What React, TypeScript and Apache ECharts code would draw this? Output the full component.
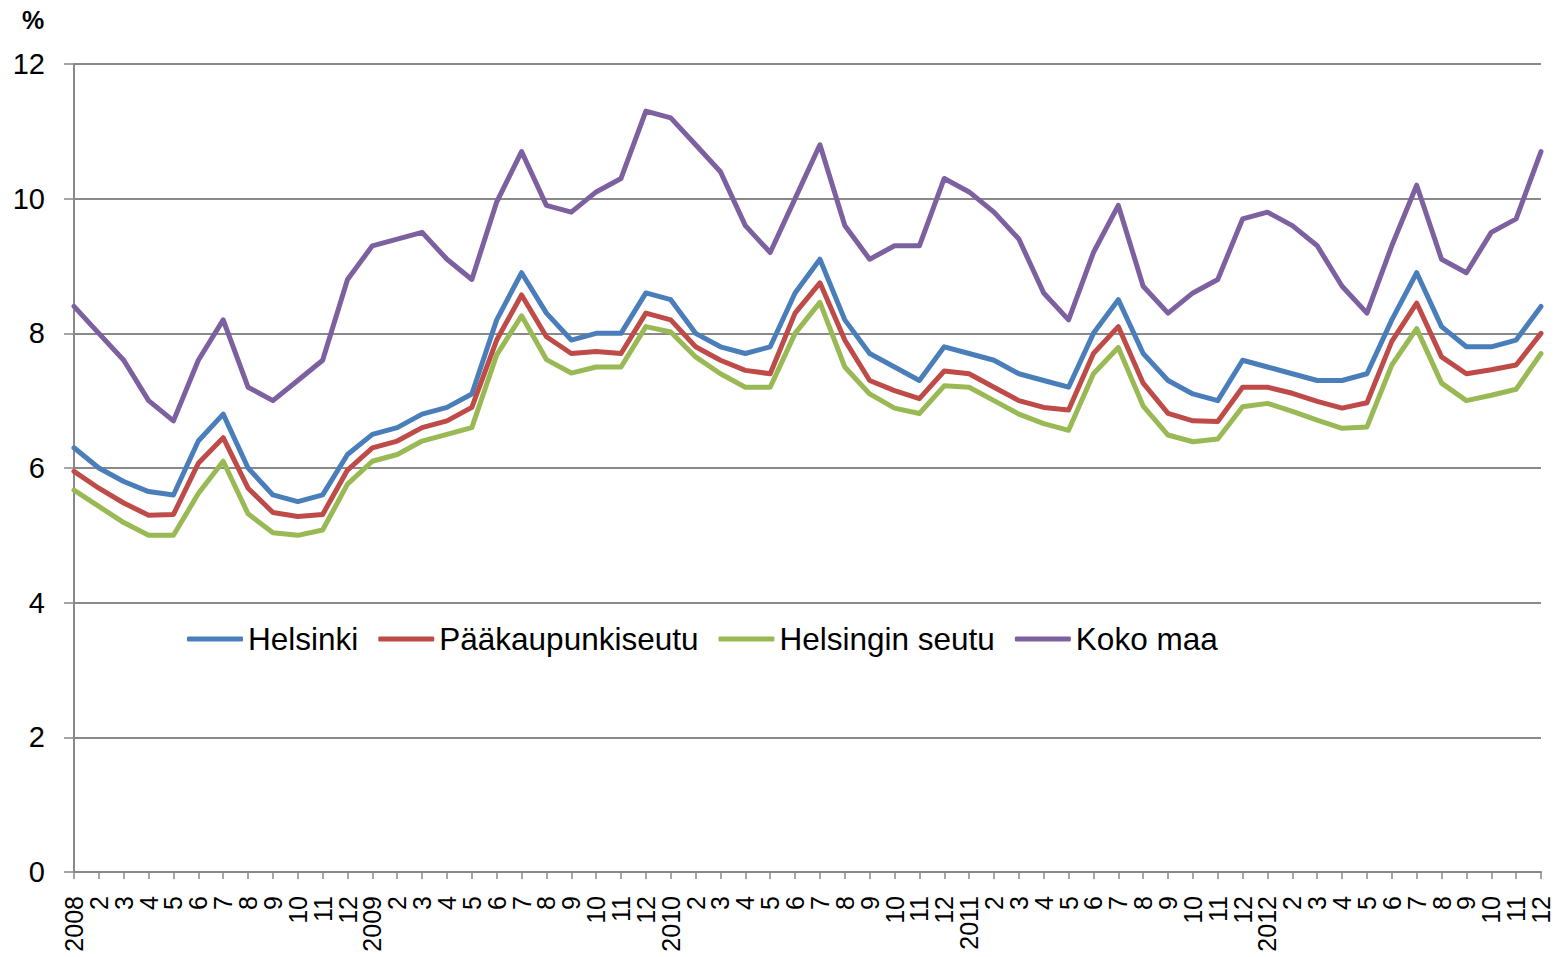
import React, { useEffect, useRef } from "react";
import * as echarts from "echarts";

const years = ["2008", "2009", "2010", "2011", "2012"];
const months = ["1", "2", "3", "4", "5", "6", "7", "8", "9", "10", "11", "12"];
const categories: string[] = [];
const tickLabels: string[] = [];
years.forEach((y) =>
  months.forEach((m) => {
    categories.push(y + "-" + m);
    tickLabels.push(m === "1" ? y : m);
  })
);

const helsinki = [
  6.3, 6.0, 5.8, 5.65, 5.6, 6.4, 6.8, 6.0, 5.6, 5.5, 5.6, 6.2,
  6.5, 6.6, 6.8, 6.9, 7.1, 8.2, 8.9, 8.3, 7.9, 8.0, 8.0, 8.6,
  8.5, 8.0, 7.8, 7.7, 7.8, 8.6, 9.1, 8.2, 7.7, 7.5, 7.3, 7.8,
  7.7, 7.6, 7.4, 7.3, 7.2, 8.0, 8.5, 7.7, 7.3, 7.1, 7.0, 7.6,
  7.5, 7.4, 7.3, 7.3, 7.4, 8.2, 8.9, 8.1, 7.8, 7.8, 7.9, 8.4,
];
const paakaupunkiseutu = [
  5.95, 5.7, 5.48, 5.3, 5.31, 6.07, 6.45, 5.7, 5.34, 5.28, 5.31, 5.97,
  6.3, 6.4, 6.6, 6.7, 6.9, 7.9, 8.57, 7.95, 7.7, 7.73, 7.7, 8.3,
  8.2, 7.8, 7.6, 7.45, 7.4, 8.3, 8.75, 7.9, 7.3, 7.15, 7.03, 7.44,
  7.4, 7.2, 7.0, 6.9, 6.86, 7.7, 8.1, 7.26, 6.81, 6.7, 6.69, 7.2,
  7.2, 7.11, 6.99, 6.89, 6.97, 7.88, 8.45, 7.65, 7.4, 7.46, 7.53, 8.0,
];
const helsinginSeutu = [
  5.67, 5.43, 5.19, 5.0, 5.0, 5.62, 6.1, 5.32, 5.04, 5.0, 5.08, 5.76,
  6.1, 6.2, 6.4, 6.5, 6.6, 7.68, 8.26, 7.61, 7.41, 7.5, 7.5, 8.1,
  8.02, 7.65, 7.4, 7.2, 7.2, 8.0, 8.46, 7.5, 7.1, 6.89, 6.81, 7.22,
  7.2, 7.0, 6.8, 6.66, 6.56, 7.4, 7.79, 6.92, 6.49, 6.39, 6.43, 6.91,
  6.96, 6.84, 6.71, 6.59, 6.61, 7.53, 8.07, 7.26, 7.0, 7.08, 7.17, 7.7,
];
const kokoMaa = [
  8.4, 8.0, 7.6, 7.0, 6.7, 7.6, 8.2, 7.2, 7.0, 7.3, 7.6, 8.8,
  9.3, 9.4, 9.5, 9.1, 8.8, 9.95, 10.7, 9.9, 9.8, 10.1, 10.3, 11.3,
  11.2, 10.8, 10.4, 9.6, 9.2, 10.0, 10.8, 9.6, 9.1, 9.3, 9.3, 10.3,
  10.1, 9.8, 9.4, 8.6, 8.2, 9.2, 9.9, 8.7, 8.3, 8.6, 8.8, 9.7,
  9.8, 9.6, 9.3, 8.7, 8.3, 9.3, 10.2, 9.1, 8.9, 9.5, 9.7, 10.7,
];

const seriesNames = ["Helsinki", "Pääkaupunkiseutu", "Helsingin seutu", "Koko maa"];
const seriesColors = ["#4A7EBB", "#BE4B48", "#98B954", "#7D60A0"];
const seriesData = [helsinki, paakaupunkiseutu, helsinginSeutu, kokoMaa];

const FONT = "Arial, 'Liberation Sans', sans-serif";
const GRID_COLOR = "#898989";

export default function App() {
  const ref = useRef<HTMLDivElement>(null);
  useEffect(() => {
    if (!ref.current) return;
    const chart = echarts.init(ref.current, undefined, { renderer: "svg" });
    chart.setOption({
      animation: false,
      backgroundColor: "#ffffff",
      textStyle: { fontFamily: FONT },
      grid: {
        left: 74,
        right: 22,
        top: 64,
        bottom: 85,
        containLabel: false,
        outerBoundsMode: "none",
      },
      graphic: [
        {
          type: "text",
          left: 22,
          top: 7,
          style: {
            text: "%",
            fontFamily: FONT,
            fontSize: 25,
            fontWeight: "bold",
            fill: "#000",
          },
        },
      ],
      legend: {
        left: 187,
        top: 623,
        padding: 0,
        itemWidth: 56,
        itemHeight: 5,
        itemGap: 20,
        icon: "roundRect",
        textStyle: { fontFamily: FONT, fontSize: 31.5, color: "#000" },
        data: seriesNames,
      },
      xAxis: {
        type: "category",
        data: categories,
        boundaryGap: false,
        axisLine: { lineStyle: { color: GRID_COLOR, width: 2 } },
        axisTick: {
          show: true,
          length: 7,
          interval: 0,
          lineStyle: { color: GRID_COLOR, width: 1.5 },
        },
        axisLabel: {
          interval: 0,
          rotate: 90,
          margin: 24,
          fontFamily: FONT,
          fontSize: 25,
          color: "#000",
          formatter: (_v: string, idx: number) => tickLabels[idx],
        },
        splitLine: { show: false },
      },
      yAxis: {
        type: "value",
        min: 0,
        max: 12,
        interval: 2,
        axisLine: { show: true, lineStyle: { color: GRID_COLOR, width: 2 } },
        axisTick: {
          show: true,
          length: 10,
          lineStyle: { color: GRID_COLOR, width: 1.5 },
        },
        axisLabel: {
          margin: 29,
          fontFamily: FONT,
          fontSize: 29,
          color: "#000",
        },
        splitLine: { show: true, lineStyle: { color: GRID_COLOR, width: 2 } },
      },
      series: seriesNames.map((name, i) => ({
        name,
        type: "line",
        data: seriesData[i],
        showSymbol: false,
        symbol: "none",
        color: seriesColors[i],
        lineStyle: { width: 5, color: seriesColors[i], join: "round", cap: "round" },
        itemStyle: { color: seriesColors[i] },
      })),
    });
    return () => chart.dispose();
  }, []);
  return (
    <div
      ref={ref}
      style={{ position: "absolute", left: 0, top: 0, width: 1563, height: 957 }}
    />
  );
}
